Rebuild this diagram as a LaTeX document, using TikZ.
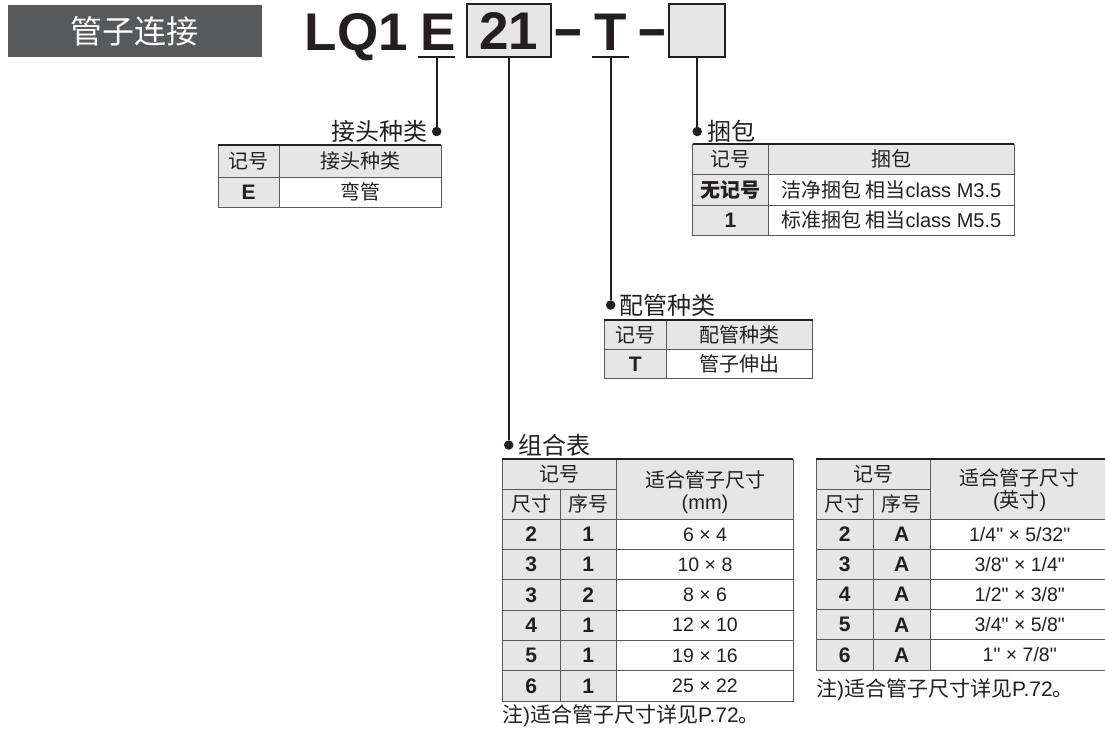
\documentclass[tikz,border=0pt]{standalone}
\usepackage{fontspec}
\setmainfont{Liberation Sans}
\newfontfamily\latin{Liberation Sans}
\newfontfamily\cjk{Noto Sans CJK SC}
\usetikzlibrary{positioning}
\definecolor{ink}{HTML}{231F20}
\definecolor{bandgray}{HTML}{58595B}
\definecolor{cellgray}{HTML}{E6E6E6}
\definecolor{rulegray}{HTML}{58595B}

\begin{document}
\begin{tikzpicture}[x=1pt, y=-1pt,
  code/.style={font=\bfseries\fontsize{53}{60}\selectfont, text=ink, inner sep=0pt, anchor=base},
  codebox/.style={draw=ink, line width=2pt, fill=cellgray, minimum height=53pt, inner sep=0pt,
                  font=\bfseries\fontsize{53}{60}\selectfont, text=ink},
  lead/.style={draw=ink, line width=1.6pt},
  underline/.style={draw=ink, line width=2pt},
  dot/.style={circle, fill=ink, inner sep=0pt, minimum size=9.5pt},
  title/.style={font=\cjk\fontsize{24}{28}\selectfont, text=ink, inner sep=0pt},
  cell/.style={font=\cjk\fontsize{20}{22}\selectfont, text=ink, inner sep=0pt, align=center},
  note/.style={font=\cjk\fontsize{21}{24}\selectfont, text=ink, inner sep=0pt, anchor=west},
  num/.style={font=\latin\fontsize{19.5}{22}\selectfont, text=ink, inner sep=0pt},
  key/.style={font=\bfseries\fontsize{21}{22}\selectfont, text=ink, inner sep=0pt},
  rule/.style={draw=rulegray, line width=0.9pt},
  toprule/.style={draw=ink, line width=2pt},
]
\useasboundingbox (0,0) rectangle (1105,734);

\node[fill=bandgray, minimum width=253.7pt, minimum height=52.3pt, inner sep=0pt,
      font=\cjk\fontsize{32}{36}\selectfont, text=white] (band) at (134.8,31.2) {管子连接};

\node[code] (lq) at (356.3,50) {LQ1};
\node[code] (codeE) at (437.8,50) {E};
\node[codebox, minimum width=84pt] (box21) at (508.7,30.7) {21};
\node[code] (dashA) at (568.7,46) {\scalebox{1.8}[1]{-}};
\node[code] (codeT) at (610.8,50) {T};
\node[code] (dashB) at (652,46) {\scalebox{1.8}[1]{-}};
\node[codebox, minimum width=55.7pt] (boxPack) at (697.2,30.7) {};

\coordinate (uE) at (436.7,57.3);
\coordinate (uT) at (610.7,57.3);
\draw[underline] ([xshift=-18.4pt]uE) -- ([xshift=18.3pt]uE);
\draw[underline] ([xshift=-19pt]uT) -- ([xshift=18.6pt]uT);

\node[dot] (dotE)  at (436.7,131.5) {};
\node[dot] (dot21) at (508.7,445) {};
\node[dot] (dotT)  at (610.7,305) {};
\node[dot] (dotP)  at (697.2,131.5) {};
\draw[lead] (uE) -- (dotE);
\draw[lead] (box21.south) -- (dot21);
\draw[lead] (uT) -- (dotT);
\draw[lead] (boxPack.south) -- (dotP);

\node[title, left=4pt of dotE]  (tJoint) {接头种类};
\node[title, right=5pt of dotP] (tPack)  {捆包};
\node[title, right=4pt of dotT] (tPipe)  {配管种类};
\node[title, right=5pt of dot21] (tSize) {组合表};

% joint type
\fill[cellgray] (218.3,145) rectangle (441,177) (218.3,177) rectangle (279,207);
\draw[rule] (218.3,145) rectangle (441,207) (218.3,177) -- (441,177) (279,145) -- (279,207);
\draw[toprule] (218.3,145) -- (441,145);
\node[cell] (jH1) at (248.7,161) {记号};
\node[cell] (jH2) at (360,161) {接头种类};
\node[key]  (jK1) at (248.7,192) {E};
\node[cell] (jV1) at (360,192) {弯管};

% packing
\fill[cellgray] (692.7,144) rectangle (1014,174.5) (692.7,174.5) rectangle (768.3,235.5);
\draw[rule] (692.7,144) rectangle (1014,235.5) (692.7,174.5) -- (1014,174.5)
            (692.7,205) -- (1014,205) (768.3,144) -- (768.3,235.5);
\draw[toprule] (692.7,144) -- (1014,144);
\node[cell] (pH1) at (730.5,159.3) {记号};
\node[cell] (pH2) at (891.2,159.3) {捆包};
\node[cell, font=\cjk\bfseries\fontsize{20}{22}\selectfont] (pK1) at (730.5,189.8) {无记号};
\node[cell] (pV1) at (891.2,189.8) {洁净捆包 相当{\rmfamily class M3.5}};
\node[key]  (pK2) at (730.5,220.3) {1};
\node[cell] (pV2) at (891.2,220.3) {标准捆包 相当{\rmfamily class M5.5}};

% piping
\fill[cellgray] (604.3,320) rectangle (812.7,349.3) (604.3,349.3) rectangle (666,378.3);
\draw[rule] (604.3,320) rectangle (812.7,378.3) (604.3,349.3) -- (812.7,349.3) (666,320) -- (666,378.3);
\draw[toprule] (604.3,320) -- (812.7,320);
\node[cell] (tH1) at (635.2,334.7) {记号};
\node[cell] (tH2) at (739.3,334.7) {配管种类};
\node[key]  (tK1) at (635.2,363.8) {T};
\node[cell] (tV1) at (739.3,363.8) {管子伸出};

% size, mm
\fill[cellgray] (502.3,459.3) rectangle (793.3,519.3) (502.3,519.3) rectangle (616.7,701);
\draw[rule] (502.3,459.3) rectangle (793.3,701) (502.3,489.3) -- (616.7,489.3)
            (560,489.3) -- (560,701) (616.7,459.3) -- (616.7,701);
\foreach \k in {0,...,5}
  \draw[rule] (502.3,{519.3+\k*30.28}) -- (793.3,{519.3+\k*30.28});
\draw[toprule] (502.3,459.3) -- (793.3,459.3);
\node[cell] (mH1) at (559.5,474.3) {记号};
\node[cell] (mH2) at (531.2,504.3) {尺寸};
\node[cell] (mH3) at (588.3,504.3) {序号};
\node[cell] (mH4) at (705,492) {适合管子尺寸\\{\rmfamily (mm)}};
\foreach \s/\n/\d [count=\i] in {2/1/6 × 4, 3/1/10 × 8, 3/2/8 × 6, 4/1/12 × 10, 5/1/19 × 16, 6/1/25 × 22}{
  \node[key] (mS\i) at (531.2,{534.4+(\i-1)*30.28}) {\s};
  \node[key] (mN\i) at (588.3,{534.4+(\i-1)*30.28}) {\n};
  \node[num] (mD\i) at (705,{534.4+(\i-1)*30.28}) {\d};
}
\node[note] (noteM) at (502,716) {注{\rmfamily)}适合管子尺寸详见{\rmfamily P.72}。};

% size, inch
\fill[cellgray] (816,459.3) rectangle (1105,519.3) (816,519.3) rectangle (930,670);
\draw[rule] (1105,459.3) -- (816,459.3) -- (816,670) -- (1105,670)
            (816,489.3) -- (930,489.3) (873.3,489.3) -- (873.3,670) (930,459.3) -- (930,670);
\foreach \k in {0,...,4}
  \draw[rule] (816,{519.3+\k*30.14}) -- (1105,{519.3+\k*30.14});
\draw[toprule] (816,459.3) -- (1105,459.3);
\node[cell] (iH1) at (873.3,474.3) {记号};
\node[cell] (iH2) at (844.7,504.3) {尺寸};
\node[cell] (iH3) at (901.7,504.3) {序号};
\node[cell] (iH4) at (1019.7,490) {适合管子尺寸\\{\rmfamily (}英寸{\rmfamily )}};
\foreach \s/\d [count=\i] in {2/{1/4" × 5/32"}, 3/{3/8" × 1/4"}, 4/{1/2" × 3/8"}, 5/{3/4" × 5/8"}, 6/{1" × 7/8"}}{
  \node[key] (iS\i) at (844.7,{534.4+(\i-1)*30.14}) {\s};
  \node[key] (iN\i) at (901.7,{534.4+(\i-1)*30.14}) {A};
  \node[num] (iD\i) at (1019.7,{534.4+(\i-1)*30.14}) {\d};
}
\node[note] (noteI) at (816,690) {注{\rmfamily)}适合管子尺寸详见{\rmfamily P.72}。};
\end{tikzpicture}
\end{document}
